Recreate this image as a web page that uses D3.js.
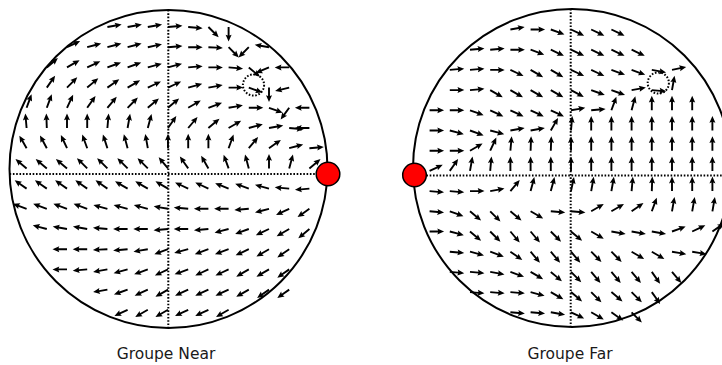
<!DOCTYPE html>
<html>
<head>
<meta charset="utf-8">
<script src="https://cdn.jsdelivr.net/npm/d3@7"></script>
<style>
  html, body { margin: 0; padding: 0; background: #fff; }
  svg { display: block; }
</style>
</head>
<body>
<svg id="chart" width="722" height="365"></svg>
<script>
// ---- data ----
const panelTitles = ["Groupe Near", "Groupe Far"];
const gridCols = [-7, -6, -5, -4, -3, -2, -1, 0, 1, 2, 3, 4, 5, 6, 7];
const gridRows = [0, 1, 2, 3, 4, 5, 6, 7, 8, 9, 10, 11, 12, 13, 14];
// arrow direction in degrees (0 = right, 90 = up), one row per grid row, null = no arrow
const nearAngles = [
  [null,null,null,null,10,10,10,5,-5,-45,-90,null,null,null,null],
  [null,null,25,15,15,15,12,5,0,-3,-45,-135,170,null,null],
  [null,40,30,25,20,20,15,15,5,0,-5,-40,-157,180,null],
  [null,55,45,40,35,30,25,25,15,10,0,-20,-90,-166,null],
  [70,70,65,55,50,45,40,40,30,20,10,0,-20,-126,180],
  [95,92,90,90,85,80,75,55,50,40,30,15,10,-5,180],
  [120,118,115,110,108,105,100,90,90,90,70,50,35,15,5],
  [140,140,140,135,135,135,135,130,125,120,110,105,90,75,40],
  [145,145,145,145,145,150,150,150,155,155,158,160,165,175,185],
  [160,160,160,160,165,165,165,170,175,180,180,185,195,205,215],
  [null,165,170,170,175,180,180,185,180,185,195,200,205,210,220],
  [null,null,180,180,183,185,190,200,195,200,200,205,210,215,null],
  [null,null,180,185,190,195,200,205,200,205,205,210,210,215,null],
  [null,null,null,null,190,200,205,210,205,205,205,210,215,215,null],
  [null,null,null,null,null,205,210,210,205,205,210,null,null,null,null]
];
const farAngles = [
  [null,null,null,null,10,0,-20,-25,-25,-25,null,null,null,null,null],
  [null,null,5,5,0,-20,-25,-25,-25,-25,-25,null,null,null,null],
  [null,5,5,0,-25,-30,-30,-25,-25,-20,-20,-10,12,null,null],
  [null,0,5,-30,-30,-30,-30,-28,-20,-20,10,-5,80,null,null],
  [0,0,-20,-25,-25,-25,-25,10,5,70,75,90,90,90,null],
  [0,-15,-20,-15,10,10,60,85,90,90,90,90,90,90,90],
  [0,0,30,65,85,88,88,90,90,90,90,90,90,90,90],
  [25,55,80,85,90,90,90,90,90,90,90,90,90,90,90],
  [-5,-5,0,10,50,75,75,78,80,80,85,88,90,90,90],
  [-5,-20,-40,-45,-40,-30,-5,-5,30,30,35,70,80,80,80],
  [0,-15,-40,-45,-50,-50,-45,-40,-30,-10,-10,-10,20,25,35],
  [null,-5,-15,-20,-35,-50,-50,-50,-45,-45,-30,-30,-10,-10,null],
  [null,-5,-5,-10,-20,-30,-40,-45,-50,-50,-50,-55,-50,null,null],
  [null,null,-5,-5,-5,-15,-30,-40,-45,-40,-45,-55,null,null,null],
  [null,null,null,null,-5,-5,-10,-25,-30,-35,-45,null,null,null,null]
];

// ---- layout ----
const panels = [
  { title: panelTitles[0], angles: nearAngles,
    colC: 168, row0: 27, step: 20.2,
    circle: { cx: 168.5, cy: 169, r: 159 },
    hLineY: 174, vLineX: 168.3,
    dot: { cx: 328, cy: 174 },
    ring: { cx: 253.5, cy: 85, r: 10.6 },
    labelX: 166 },
  { title: panelTitles[1], angles: farAngles,
    colC: 571, row0: 29.5, step: 20.2,
    circle: { cx: 572, cy: 168, r: 159 },
    hLineY: 175.5, vLineX: 570.7,
    dot: { cx: 414.5, cy: 175 },
    ring: { cx: 658.3, cy: 83, r: 10.6 },
    labelX: 570 }
];

const svg = d3.select("#chart");

const arrowLen = 14.5, shaftW = 1.9, headLen = 6.8, headAxis = 6.0, headW = 6.0;
const arrowPath = (function () {
  const L = arrowLen, w = shaftW / 2, hw = headW / 2;
  return `M0,${-w}L${L - headAxis},${-w}L${L - headLen},${-hw}L${L},0L${L - headLen},${hw}L${L - headAxis},${w}L0,${w}Z`;
})();

panels.forEach(p => {
  const g = svg.append("g");
  const x = d3.scaleLinear().domain([-7, 7]).range([p.colC - 7 * p.step, p.colC + 7 * p.step]);
  const y = d3.scaleLinear().domain([0, 14]).range([p.row0, p.row0 + 14 * p.step]);

  // big circle
  g.append("circle")
    .attr("cx", p.circle.cx).attr("cy", p.circle.cy).attr("r", p.circle.r)
    .attr("fill", "none").attr("stroke", "#000").attr("stroke-width", 2);

  // dotted cross lines
  const dy = p.hLineY - p.circle.cy;
  const halfW = Math.sqrt(p.circle.r * p.circle.r - dy * dy);
  g.append("line")
    .attr("x1", p.circle.cx - halfW).attr("x2", p.circle.cx + halfW)
    .attr("y1", p.hLineY).attr("y2", p.hLineY)
    .attr("stroke", "#000").attr("stroke-width", 2).attr("stroke-dasharray", "1.6,1.7");
  const dx = p.vLineX - p.circle.cx;
  const halfH = Math.sqrt(p.circle.r * p.circle.r - dx * dx);
  g.append("line")
    .attr("x1", p.vLineX).attr("x2", p.vLineX)
    .attr("y1", p.circle.cy - halfH).attr("y2", p.circle.cy + halfH)
    .attr("stroke", "#000").attr("stroke-width", 2).attr("stroke-dasharray", "1.6,1.7");

  // arrows
  const pts = [];
  gridRows.forEach((r, ri) => {
    gridCols.forEach((c, ci) => {
      const a = p.angles[ri][ci];
      if (a !== null && a !== undefined) pts.push({ c, r, a });
    });
  });
  g.append("g").selectAll("path").data(pts).join("path")
    .attr("d", arrowPath)
    .attr("transform", d => `translate(${x(d.c)},${y(d.r)}) rotate(${-d.a})`)
    .attr("fill", "#000");

  // small dotted ring
  g.append("circle")
    .attr("cx", p.ring.cx).attr("cy", p.ring.cy).attr("r", p.ring.r)
    .attr("fill", "none").attr("stroke", "#000").attr("stroke-width", 2)
    .attr("stroke-dasharray", "1.6,1.7");

  // red dot
  g.append("circle")
    .attr("cx", p.dot.cx).attr("cy", p.dot.cy).attr("r", 11.8)
    .attr("fill", "#ff0000").attr("stroke", "#000").attr("stroke-width", 1.5);

  // label
  g.append("text")
    .attr("x", p.labelX).attr("y", 359)
    .attr("text-anchor", "middle")
    .attr("font-family", "DejaVu Sans")
    .attr("font-size", "15.5px")
    .attr("fill", "#1a1a1a")
    .text(p.title);
});
</script>
</body>
</html>
